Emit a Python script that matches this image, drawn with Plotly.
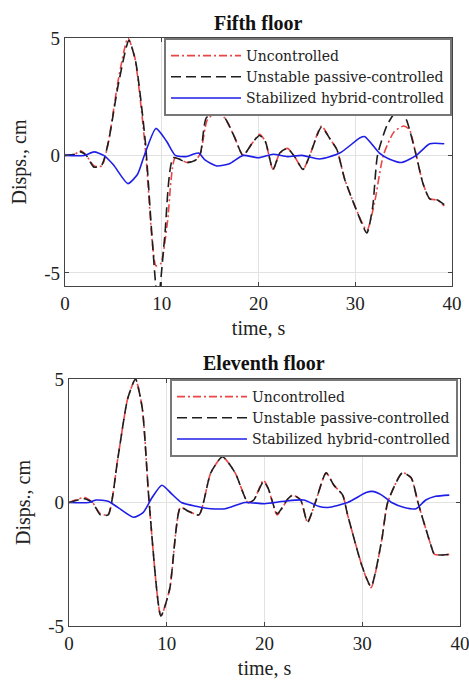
import plotly.graph_objects as go

# ---------------- Fifth floor ----------------
t_u5 = [0, 1, 1.6, 2.2, 3.0, 3.8, 4.5, 5.5, 6.5, 7.2, 8.3, 9.0, 9.4, 9.9, 10.6, 11.4, 12.6, 13.5, 14.0, 14.7,
        15.5, 16.5, 17.5, 18.4, 19.4, 20.1, 20.7, 21.5, 22.2, 23.0, 23.8, 24.6, 25.3, 26.5, 27.4, 28.1, 28.9,
        30.0, 31.2, 32.0, 32.9, 34.0, 35.0, 35.6, 36.3, 37.0, 37.7, 38.5, 39.2]
d_u5 = [0, 0.05, 0.2, 0, -0.45, -0.45, 0.6, 3.2, 5.0, 4.2, 0.3, -3.6, -4.7, -4.6, -2.8, -0.1, -0.3, -0.2, 0.1, 1.5,
        1.8, 1.6, 0.8, 0, 0.55, 0.9, 0.6, -0.6, 0.1, 0.3, -0.1, -0.6, 0, 1.25, 0.7, 0.25, -1.0,
        -2.2, -3.2, -2.0, 0, 1.0, 1.25, 1.1, 0, -1.2, -1.85, -1.9, -2.15]

t_p5 = [0, 1, 1.6, 2.2, 3.0, 3.8, 4.5, 5.5, 6.6, 7.3, 8.3, 9.0, 9.6, 10.3, 11.2, 12.6, 13.5, 14.0, 14.6,
        15.5, 16.5, 17.5, 18.4, 19.4, 20.1, 20.7, 21.5, 22.2, 23.0, 23.8, 24.6, 25.3, 26.5, 27.4, 28.1, 28.9,
        30.0, 31.2, 31.8, 32.3, 33.3, 34.5, 35.3, 36.3, 37.0, 37.7, 38.5, 39.2]
d_p5 = [0, 0.05, 0.15, 0, -0.5, -0.4, 0.6, 3.0, 4.9, 4.0, 0.6, -3.5, -6.3, -3.5, -0.1, -0.3, -0.2, 0.1, 1.6,
        1.8, 1.6, 0.8, 0, 0.55, 0.85, 0.6, -0.6, 0.1, 0.3, -0.1, -0.6, 0, 1.2, 0.7, 0.25, -1.0,
        -2.2, -3.3, -2.2, 0, 1.3, 2.0, 1.5, 0, -1.2, -1.85, -1.9, -2.1]

t_h5 = [0, 2, 3.0, 4.0, 5.0, 6.5, 7.5, 8.2, 9.4, 10.5, 11.4, 12.5, 13.8, 14.5, 15.7, 17.0, 18.4, 20, 21.5,
        23, 24.5, 26.3, 28.4, 30.5, 31.0, 32.5, 33.5, 34.8, 36.3, 37.7, 39.2]
d_h5 = [0, 0, 0.15, 0, -0.4, -1.2, -0.8, 0, 1.15, 0.6, 0, -0.05, 0.1, -0.2, -0.45, -0.35, 0, -0.1, 0.05,
        -0.05, 0.0, -0.15, 0.1, 0.75, 0.8, 0.1, -0.15, -0.3, 0, 0.5, 0.5]

# ---------------- Eleventh floor ----------------
t_u11 = [0, 1.6, 2.4, 3.2, 4.0, 5.0, 6.0, 6.8, 7.5, 8.2, 9.4, 10.3, 11.4, 12.2, 13.3, 14.5, 15.7, 17.0, 18.3,
         18.9, 19.9, 20.4, 21.3, 22.4, 22.9, 23.7, 24.4, 25.2, 26.3, 27.1, 28.0, 28.5, 30.0, 30.9, 32.0, 32.6,
         34.1, 35.0, 35.7, 37.0, 37.4, 38.9]
d_u11 = [0, 0.2, 0, -0.45, -0.5, 1.8, 4.2, 5.0, 3.8, 0, -4.6, -3.5, -0.2, -0.35, -0.5, 1.2, 1.85, 1.2, 0,
         0.1, 0.9, 0.55, -0.5, 0.15, 0.3, 0.1, -0.8, 0, 1.2, 0.7, 0.3, -0.5, -2.6, -3.45, -1.5, 0,
         1.2, 1.0, 0, -1.7, -2.1, -2.1]
t_p11 = t_u11
d_p11 = [0, 0.15, 0, -0.5, -0.5, 1.8, 4.2, 5.0, 3.8, 0, -4.6, -3.5, -0.2, -0.35, -0.5, 1.2, 1.85, 1.2, 0,
         0.1, 0.85, 0.55, -0.45, 0.15, 0.3, 0.1, -0.8, 0, 1.2, 0.7, 0.3, -0.5, -2.6, -3.4, -1.5, 0,
         1.2, 1.0, 0, -1.7, -2.1, -2.1]

t_h11 = [0, 2.0, 2.8, 4.0, 5.0, 6.6, 7.6, 8.5, 9.5, 10.5, 11.5, 13.0, 14.5, 16.0, 18.0, 20.0, 22.0, 24.0,
         25.5, 26.5, 28.5, 30.4, 31.0, 32.0, 33.0, 34.3, 35.5, 36.5, 37.5, 38.9]
d_h11 = [0, 0, 0.1, 0.05, -0.2, -0.6, -0.4, 0.2, 0.7, 0.35, 0, -0.15, -0.25, -0.25, 0, -0.05, 0.05, 0.1,
         -0.15, -0.2, 0, 0.4, 0.45, 0.3, 0, -0.2, -0.25, 0.1, 0.25, 0.3]

x_ticks = [0, 10, 20, 30, 40]
y_ticks = [-5, 0, 5]
y_ticktext = ["-5", "0", "5"]

names = ["Uncontrolled", "Unstable passive-controlled", "Stabilized hybrid-controlled"]
colors = ["rgb(235,70,70)", "rgb(30,30,30)", "rgb(30,30,230)"]
dashes = ["8px,3px,2px,3px", "10px,5px", "solid"]

W, H = 469, 683
FONT = "Liberation Serif"
LFONT = "DejaVu Serif"

fig = go.Figure()
panels = [
    ((t_u5, d_u5), (t_p5, d_p5), (t_h5, d_h5), "x", "y", "legend"),
    ((t_u11, d_u11), (t_p11, d_p11), (t_h11, d_h11), "x2", "y2", "legend2"),
]
for u, p, h, xa, ya, lg in panels:
    for (tt, dd), nm, c, ds in zip([u, p, h], names, colors, dashes):
        fig.add_trace(go.Scatter(x=tt, y=dd, mode="lines", name=nm, xaxis=xa, yaxis=ya, legend=lg,
                                 line=dict(color=c, width=1.6, dash=ds, shape="spline", smoothing=0.6)))

def px_x(p):
    return p / W

def px_y(p):
    return 1 - p / H

axis_common = dict(showline=True, linecolor="#444", linewidth=1.2, mirror="ticks", ticks="inside",
                   ticklen=4, tickcolor="#444", showgrid=True, gridcolor="#e2e2e2", gridwidth=1,
                   zeroline=False, automargin=False, ticklabeloverflow="allow",
                   tickfont=dict(family=FONT, size=19, color="#222"))

legend_common = dict(xanchor="right", yanchor="top", bgcolor="white", bordercolor="#777", borderwidth=2,
                     font=dict(family=LFONT, size=14, color="#222"), tracegroupgap=0, itemwidth=70)

fig.update_layout(
    width=W, height=H, margin=dict(l=0, r=0, t=0, b=0, autoexpand=False),
    paper_bgcolor="white", plot_bgcolor="white",
    font=dict(family=FONT, color="#222"),
    xaxis=dict(domain=[px_x(65), px_x(452)], range=[0, 40], tickvals=x_ticks, anchor="y",
               title=dict(text="time, s", font=dict(family=FONT, size=20), standoff=8), **axis_common),
    yaxis=dict(domain=[px_y(286), px_y(38)], range=[-5.56, 5], tickvals=y_ticks, ticktext=y_ticktext,
               anchor="x", title=dict(text="Disps., cm", font=dict(family=FONT, size=20), standoff=12),
               **axis_common),
    xaxis2=dict(domain=[px_x(69), px_x(460)], range=[0, 40], tickvals=x_ticks, anchor="y2",
                title=dict(text="time, s", font=dict(family=FONT, size=20), standoff=8), **axis_common),
    yaxis2=dict(domain=[px_y(626), px_y(379)], range=[-5, 5], tickvals=y_ticks, ticktext=y_ticktext,
                anchor="x2", title=dict(text="Disps., cm", font=dict(family=FONT, size=20), standoff=12),
                **axis_common),
    legend=dict(x=px_x(452), y=px_y(38), **legend_common),
    legend2=dict(x=px_x(458), y=px_y(379), **legend_common),
    showlegend=True,
    annotations=[
        dict(text="<b>Fifth floor</b>", x=px_x(258), y=px_y(23), xref="paper", yref="paper",
             showarrow=False, font=dict(family=FONT, size=20, color="#111"), xanchor="center", yanchor="middle"),
        dict(text="<b>Eleventh floor</b>", x=px_x(264), y=px_y(363), xref="paper", yref="paper",
             showarrow=False, font=dict(family=FONT, size=20, color="#111"), xanchor="center", yanchor="middle"),
    ],
)

fig.write_html("out.html")
